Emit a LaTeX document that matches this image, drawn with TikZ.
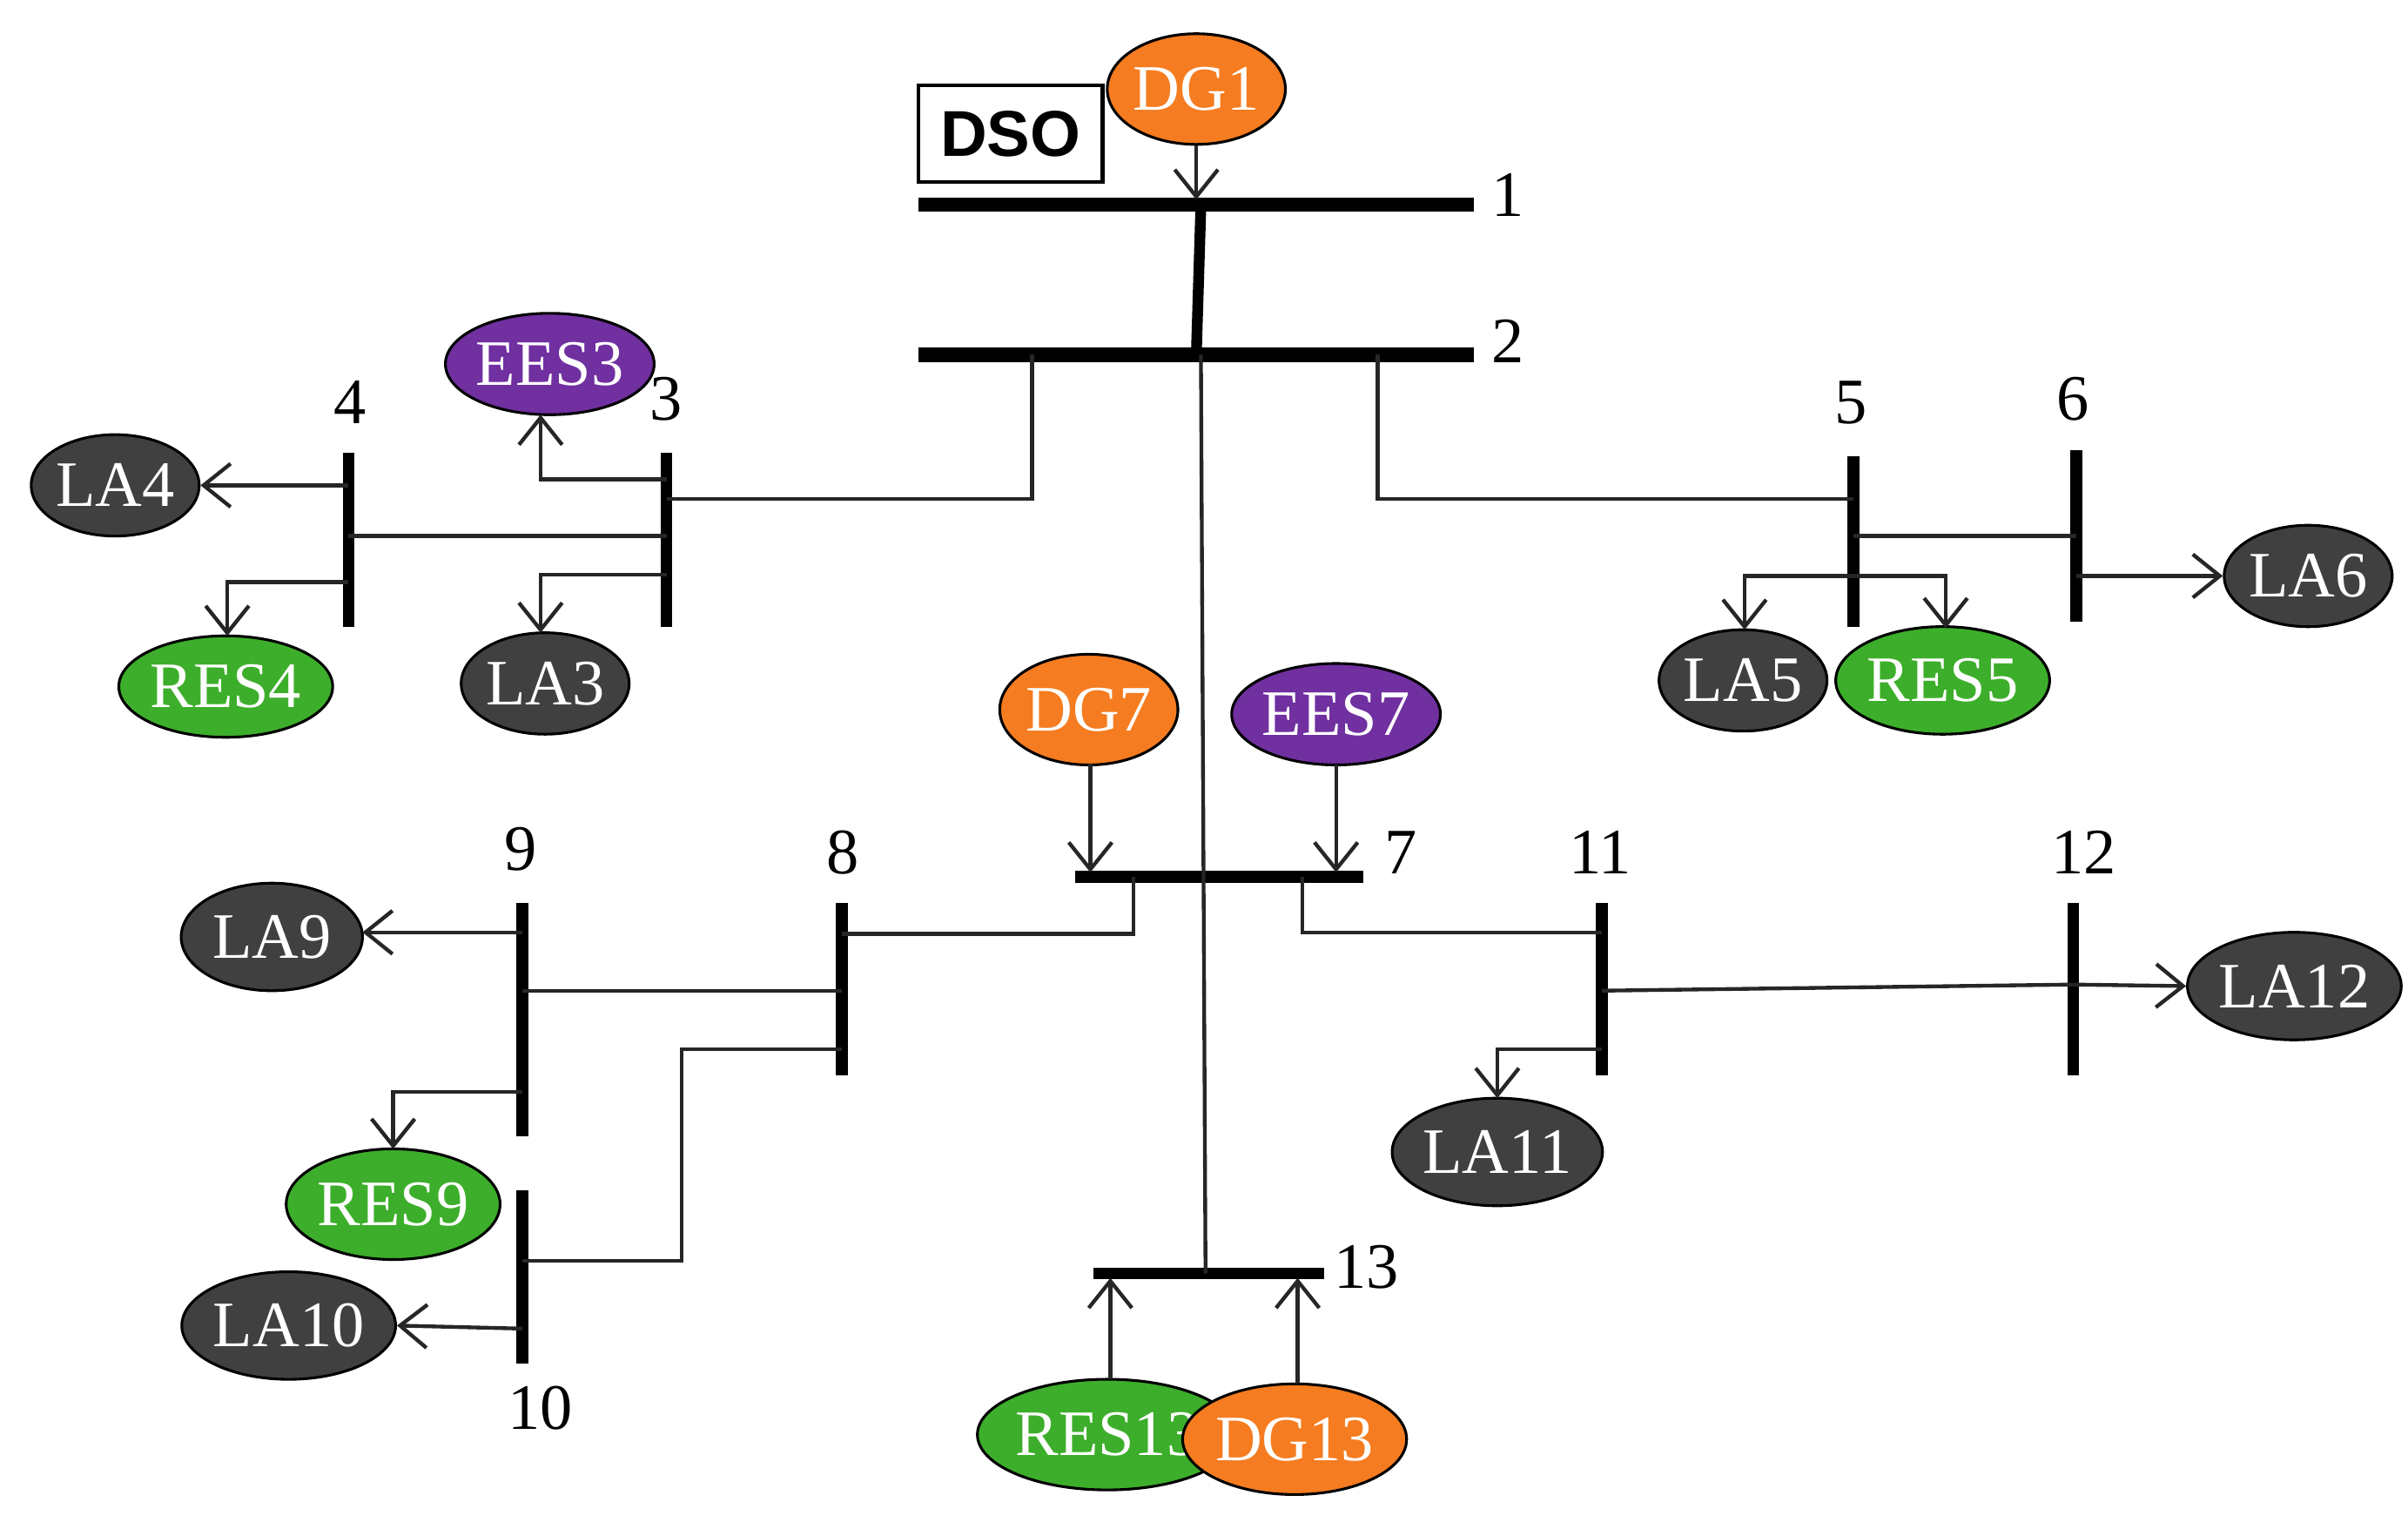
\documentclass[tikz,border=0pt]{standalone}
\usepackage{fontspec}
\setmainfont{Liberation Serif}
\newfontfamily\sansb{Liberation Sans}
\usetikzlibrary{arrows.meta,shapes.geometric}
\definecolor{cor}{HTML}{F57C20}
\definecolor{cgr}{HTML}{3DAE2B}
\definecolor{cpu}{HTML}{7030A0}
\definecolor{cdk}{HTML}{404040}
\begin{document}
\begin{tikzpicture}[x=0.01cm,y=-0.01cm,
  el/.style={ellipse,draw=black,line width=0.5pt,text=white,inner sep=0pt,font=\fontsize{12}{14}\selectfont},
  la/.style={el,fill=cdk,minimum width=1.04cm,minimum height=0.66cm},
  res/.style={el,fill=cgr,minimum width=1.2cm,minimum height=0.66cm},
  dg/.style={el,fill=cor,minimum width=1.06cm,minimum height=0.72cm},
  ees/.style={el,fill=cpu,minimum width=1.04cm,minimum height=0.66cm},
  ln/.style={line width=0.7pt,draw=black!85},
  ar/.style={ln,-{Straight Barb[length=5pt,width=8pt]}},
  bus/.style={line width=2.2pt},
  num/.style={font=\fontsize{12}{14}\selectfont}]
\useasboundingbox (0,0) rectangle (1568,995);
% DSO
\node[draw,line width=0.7pt,minimum width=1.2cm,minimum height=0.63cm,font=\sansb\bfseries\fontsize{12}{14}\selectfont] (dso) at (658,87) {DSO};
% nodes
\node[dg] (DG1) at (779,58) {DG1};
\node[ees] (EES3) at (358,237) {EES3};
\node[la] (LA3) at (355,445) {LA3};
\node[la] (LA4) at (75,316) {LA4};
\node[res] (RES4) at (147,447) {RES4};
\node[la] (LA5) at (1135,443) {LA5};
\node[res,minimum width=1.06cm,minimum height=0.7cm] (RES5) at (1265,443) {RES5};
\node[la,minimum width=0.96cm] (LA6) at (1503,375) {LA6};
\node[dg] (DG7) at (709,462) {DG7};
\node[ees,minimum width=1.08cm] (EES7) at (870,465) {EES7};
\node[la,minimum width=1.18cm,minimum height=0.7cm] (LA9) at (177,610) {LA9};
\node[res,minimum height=0.72cm] (RES9) at (256,784) {RES9};
\node[la,minimum width=1.06cm,minimum height=0.7cm] (LA10) at (188,863) {LA10};
\node[la,minimum width=1.06cm,minimum height=0.7cm] (LA11) at (975,750) {LA11};
\node[la,minimum width=0.94cm,minimum height=0.7cm] (LA12) at (1494,642) {LA12};
\node[res,minimum width=1.12cm,minimum height=0.72cm] (RES13) at (721,934) {RES13};
\node[dg,minimum width=1.1cm,minimum height=0.72cm] (DG13) at (843,937) {DG13};
% buses
\draw[bus,line width=2.6pt] (598,133) -- (960,133); \node[num] at (982,127) {1};
\draw[bus,line width=2.6pt] (598,231) -- (960,231); \node[num] at (982,222) {2};
\draw[bus] (434,295) -- (434,408); \node[num] at (434,260) {3};
\draw[bus] (227,295) -- (227,408); \node[num] at (228,262) {4};
\draw[bus] (1207,297) -- (1207,408); \node[num] at (1205,262) {5};
\draw[bus] (1352,293) -- (1352,405); \node[num] at (1350,260) {6};
\draw[bus] (700,571) -- (888,571); \node[num] at (912,555) {7};
\draw[bus] (548,588) -- (548,700); \node[num] at (549,555) {8};
\draw[bus] (340,588) -- (340,740); \node[num] at (339,553) {9};
\draw[bus] (340,775) -- (340,888); \node[num] at (352,917) {10};
\draw[bus] (1043,588) -- (1043,700); \node[num] at (1042,555) {11};
\draw[bus] (1350,588) -- (1350,700); \node[num] at (1357,555) {12};
\draw[bus] (712,829) -- (862,829); \node[num] at (890,825) {13};
% lines
\draw[line width=2pt] (782,133) -- (779,231);
\draw[ln] (782,231) -- (785,829);
\draw[ln] (672,231) -- (672,325) -- (434,325);
\draw[ln] (434,349) -- (227,349);
\draw[ln] (897,231) -- (897,325) -- (1207,325);
\draw[ln] (1207,349) -- (1352,349);
\draw[ln] (738,571) -- (738,608) -- (548,608);
\draw[ln] (548,645) -- (340,645);
\draw[ln] (548,683) -- (444,683) -- (444,821) -- (340,821);
\draw[ln] (848,571) -- (848,607) -- (1043,607);
\draw[ln] (1043,645) -- (1350,641);
% arrows
\draw[ar] (DG1.south) -- (779,130);
\draw[ar] (434,312) -- (352,312) -- (352,270);
\draw[ar] (434,374) -- (352,374) -- (352,412);
\draw[ar] (227,316) -- (LA4.east);
\draw[ar] (227,379) -- (148,379) -- (148,414);
\draw[ar] (1207,375) -- (1136,375) -- (1136,410);
\draw[ar] (1207,375) -- (1267,375) -- (1267,409);
\draw[ar] (1352,375) -- (LA6.west);
\draw[ar] (710,497) -- (710,568);
\draw[ar] (870,498) -- (870,568);
\draw[ar] (340,607) -- (236,607);
\draw[ar] (340,711) -- (256,711) -- (256,748);
\draw[ar] (340,865) -- (LA10.east);
\draw[ar] (1350,641) -- (LA12.west);
\draw[ar] (1043,683) -- (975,683) -- (975,715);
\draw[ar] (723,898) -- (723,832);
\draw[ar] (845,901) -- (845,832);
\end{tikzpicture}
\end{document}
